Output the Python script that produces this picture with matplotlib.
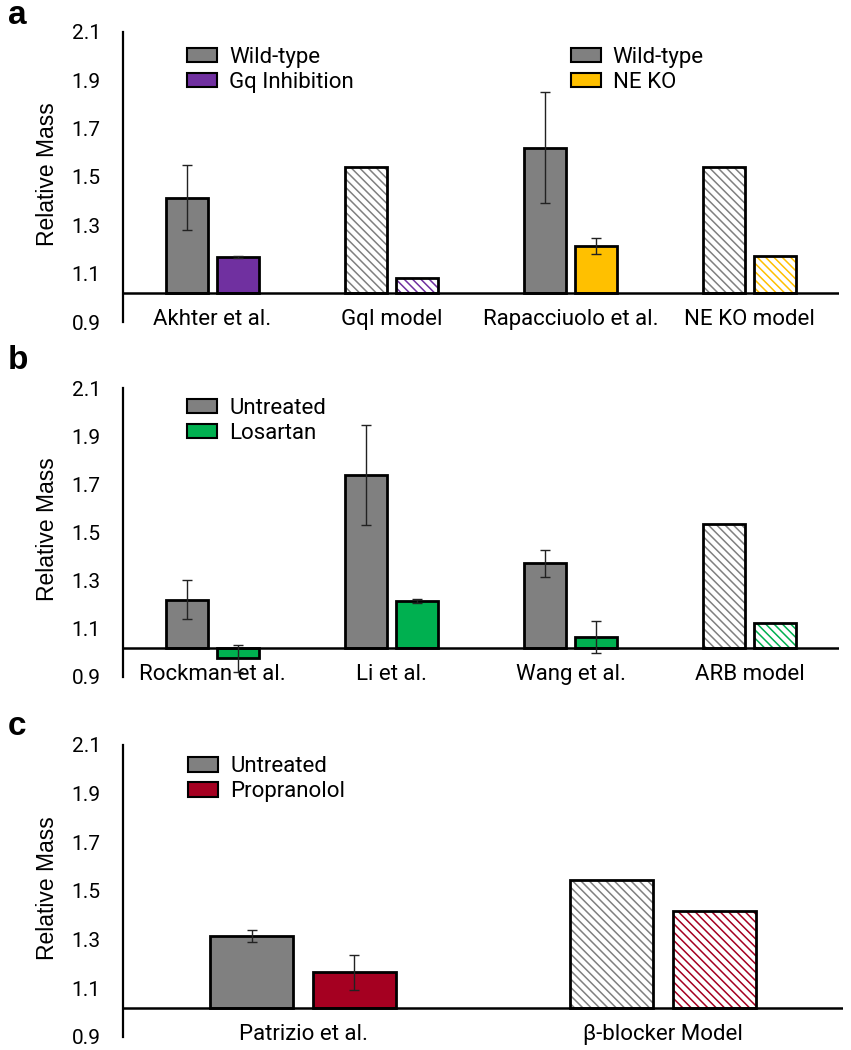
import matplotlib
matplotlib.use("Agg")
import matplotlib.pyplot as plt
from matplotlib.patches import Patch

plt.rcParams['font.family'] = ['Roboto', 'DejaVu Sans']
plt.rcParams['hatch.linewidth'] = 1.1

# ---------------- data ----------------
YTICKS = [0.9, 1.1, 1.3, 1.5, 1.7, 1.9, 2.1]
BASE = 1.02  # level where the horizontal axis crosses

# panel a
cats_a = ['Akhter et al.', 'GqI model', 'Rapacciuolo et al.', 'NE KO model']
wt_a = [1.414, 1.542, 1.620, 1.542]
wt_err_a = [0.135, 0.0, 0.230, 0.0]
tr_a = [1.170, 1.083, 1.216, 1.174]
tr_err_a = [0.004, 0.0, 0.033, 0.0]
model_a = [False, True, False, True]

# panel b
cats_b = ['Rockman et al.', 'Li et al.', 'Wang et al.', 'ARB model']
wt_b = [1.221, 1.739, 1.372, 1.537]
wt_err_b = [0.082, 0.207, 0.055, 0.0]
tr_b = [0.977, 1.217, 1.065, 1.125]
tr_err_b = [0.057, 0.008, 0.066, 0.0]
model_b = [False, False, False, True]

# panel c
cats_c = ['Patrizio et al.', 'β-blocker Model']
wt_c = [1.314, 1.544]
wt_err_c = [0.025, 0.0]
tr_c = [1.167, 1.417]
tr_err_c = [0.072, 0.0]
model_c = [False, True]

GRAY = '#808080'
PURPLE = '#7030A0'
YELLOW = '#FFC000'
GREEN = '#00B050'
RED = '#A50021'

W, H = 851, 1050
BW = 0.23
OFF = 0.142


def box(left, right, top, bottom):
    return [left / W, 1 - bottom / H, (right - left) / W, (bottom - top) / H]


def draw_bar(ax, x, val, err, color, hatched):
    if hatched:
        ax.bar(x, val - BASE, bottom=BASE, width=BW, color='white', edgecolor=color,
               hatch='\\\\\\\\', linewidth=0, zorder=2)
        ax.bar(x, val - BASE, bottom=BASE, width=BW, fill=False, edgecolor='black',
               linewidth=2.0, zorder=3)
    else:
        ax.bar(x, val - BASE, bottom=BASE, width=BW, color=color, edgecolor='black',
               linewidth=2.0, zorder=2)
    if err > 0:
        ax.errorbar(x, val, yerr=err, fmt='none', ecolor='#222222', elinewidth=1,
                    capsize=3.6, capthick=1, zorder=5)


def setup(ax, cats):
    n = len(cats)
    ax.set_xlim(-0.5, n - 0.5)
    ax.set_ylim(0.9, 2.1)
    for s in ['top', 'right', 'bottom']:
        ax.spines[s].set_visible(False)
    ax.spines['left'].set_linewidth(1.6)
    ax.set_yticks(YTICKS)
    ax.set_yticklabels([f'{t:.1f}' for t in YTICKS])
    ax.tick_params(axis='y', length=0, pad=16, labelsize=15)
    ax.set_yticks([0.9, 2.1], minor=True)
    ax.tick_params(axis='y', which='minor', direction='in', length=5, width=1.6)
    ax.set_xticks(range(n))
    ax.set_xticklabels(cats)
    ax.tick_params(axis='x', length=0, pad=-9.5, labelsize=16)
    ax.axhline(BASE, color='black', lw=1.8, zorder=4)
    ax.text(-0.105, 0.51, 'Relative Mass', transform=ax.transAxes, rotation=90,
            ha='center', va='center', fontsize=16.5,
            family=['Liberation Sans', 'DejaVu Sans'])


def legend(ax, labels, colors, x, y):
    handles = [Patch(facecolor=c, edgecolor='black', linewidth=1.5) for c in colors]
    return ax.legend(handles, labels, loc='upper left', bbox_to_anchor=(x, y),
                     frameon=False, fontsize=16, handlelength=1.35, handleheight=0.65,
                     handletextpad=0.55, labelspacing=0.18, borderpad=0, borderaxespad=0)


def panel(ax, cats, wt, wt_err, tr, tr_err, model, tr_colors):
    setup(ax, cats)
    for i in range(len(cats)):
        draw_bar(ax, i - OFF, wt[i], wt_err[i], GRAY, model[i])
        draw_bar(ax, i + OFF, tr[i], tr_err[i], tr_colors[i], model[i])


fig = plt.figure(figsize=(W / 100, H / 100), dpi=100)

ax_a = fig.add_axes(box(123, 839, 31.7, 322))
panel(ax_a, cats_a, wt_a, wt_err_a, tr_a, tr_err_a, model_a,
      [PURPLE, PURPLE, YELLOW, YELLOW])
leg1 = legend(ax_a, ['Wild-type', 'Gq Inhibition'], [GRAY, PURPLE], 0.0895, 0.948)
ax_a.add_artist(leg1)
legend(ax_a, ['Wild-type', 'NE KO'], [GRAY, YELLOW], 0.625, 0.948)

ax_b = fig.add_axes(box(123, 839, 388, 677))
panel(ax_b, cats_b, wt_b, wt_err_b, tr_b, tr_err_b, model_b, [GREEN] * 4)
legend(ax_b, ['Untreated', 'Losartan'], [GRAY, GREEN], 0.0895, 0.966)

ax_c = fig.add_axes(box(123, 843, 745, 1037))
panel(ax_c, cats_c, wt_c, wt_err_c, tr_c, tr_err_c, model_c, [RED, RED])
legend(ax_c, ['Untreated', 'Propranolol'], [GRAY, RED], 0.09, 0.962)

for letter, yb in [('a', 24), ('b', 369), ('c', 735)]:
    fig.text(8 / W, 1 - yb / H, letter, fontsize=24, fontweight='bold',
             family=['Liberation Sans', 'DejaVu Sans'], va='baseline', ha='left')

fig.savefig('out.png', dpi=100)
